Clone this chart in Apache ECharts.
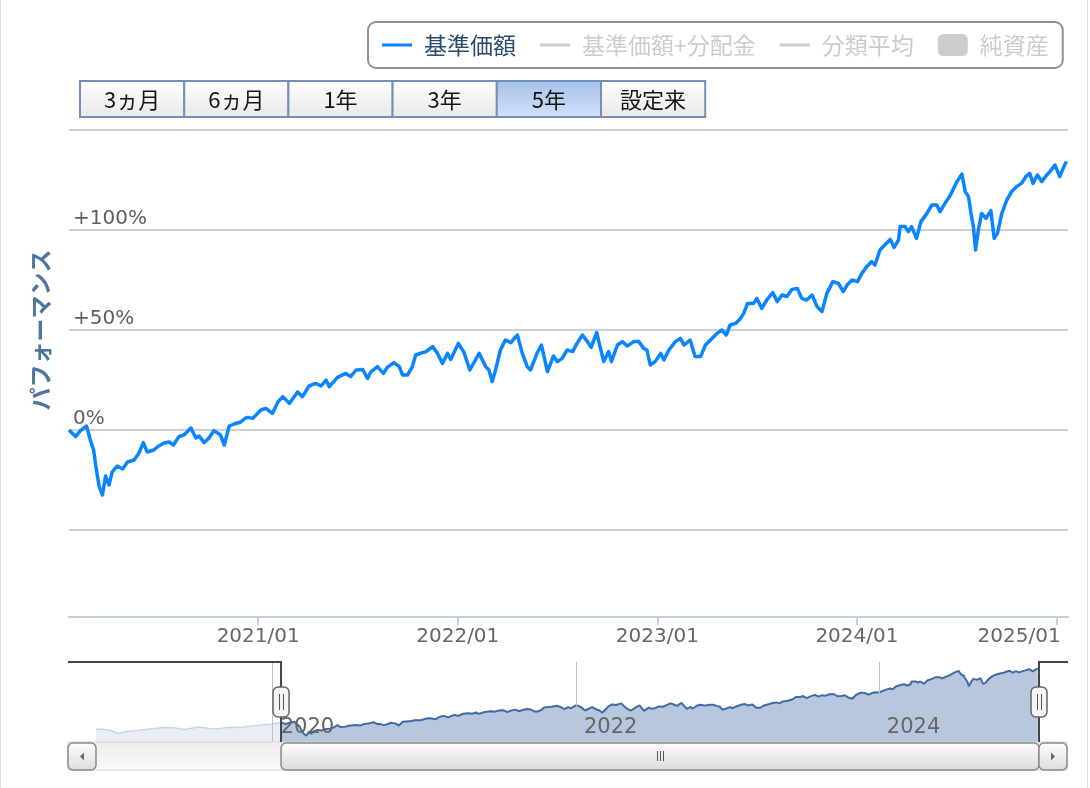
<!DOCTYPE html>
<html lang="ja">
<head>
<meta charset="utf-8">
<title>パフォーマンス</title>
<script src="https://cdn.jsdelivr.net/npm/echarts@6.0.0/dist/echarts.min.js"></script>
<style>
html,body{margin:0;padding:0;background:#ffffff;overflow:hidden;}
#wrap{position:relative;width:1090px;height:788px;}
#chart{position:absolute;left:0;top:0;width:1090px;height:788px;}
.edge{position:absolute;top:0;width:1px;height:788px;background:#dcdcdc;}
</style>
</head>
<body>
<div id="wrap">
  <div id="chart"></div>
  <div class="edge" style="left:0"></div>
  <div class="edge" style="left:1087px"></div>
</div>
<script>
// ---------------- data ----------------
const legendNames = ['基準価額', '基準価額+分配金', '分類平均', '純資産'];
const rangeButtons = ['3ヵ月', '6ヵ月', '1年', '3年', '5年', '設定来'];
const selectedButton = '5年';

const navStart = '2018-11-01';
const viewStart = '2020-01-21';
const viewEnd = '2025-01-21';

const yearTicks = ['2021-01-01', '2022-01-01', '2023-01-01', '2024-01-01', '2025-01-01'];
const navTicks = ['2020-01-01', '2022-01-01', '2024-01-01'];
const yTickValues = [-50, 0, 50, 100, 150];

// performance (%) relative to 2020-01-21
const dates = [
'2018-11-01','2018-11-15','2018-12-05','2018-12-24','2019-01-15','2019-02-13','2019-03-10','2019-04-16',
'2019-05-06','2019-06-03','2019-07-05','2019-08-05','2019-08-21','2019-09-15','2019-10-23','2019-11-20',
'2019-12-26','2020-01-21','2020-01-24','2020-02-02','2020-02-11','2020-02-22','2020-02-29','2020-03-06',
'2020-03-10','2020-03-16','2020-03-22','2020-03-28','2020-04-03','2020-04-09','2020-04-18','2020-04-28',
'2020-05-07','2020-05-19','2020-05-28','2020-06-05','2020-06-12','2020-06-24','2020-07-03','2020-07-13',
'2020-07-22','2020-07-30','2020-08-09','2020-08-18','2020-08-31','2020-09-09','2020-09-15','2020-09-24',
'2020-10-03','2020-10-12','2020-10-24','2020-10-31','2020-11-09','2020-11-18','2020-11-30','2020-12-09',
'2020-12-13','2020-12-22','2021-01-06','2021-01-15','2021-01-27','2021-02-06','2021-02-15','2021-02-27',
'2021-03-14','2021-03-23','2021-04-04','2021-04-16','2021-04-26','2021-05-05','2021-05-11','2021-05-26',
'2021-06-10','2021-06-19','2021-06-29','2021-07-11','2021-07-20','2021-07-26','2021-08-07','2021-08-18',
'2021-08-25','2021-09-06','2021-09-16','2021-09-22','2021-10-01','2021-10-10','2021-10-16','2021-10-28',
'2021-11-03','2021-11-16','2021-11-25','2021-12-04','2021-12-13','2021-12-19','2022-01-02','2022-01-12',
'2022-01-23','2022-02-09','2022-02-21','2022-02-27','2022-03-05','2022-03-11','2022-03-20','2022-03-29',
'2022-04-08','2022-04-20','2022-04-29','2022-05-08','2022-05-14','2022-05-26','2022-06-03','2022-06-14',
'2022-06-25','2022-07-02','2022-07-11','2022-07-20','2022-07-30','2022-08-07','2022-08-17','2022-08-26',
'2022-09-02','2022-09-12','2022-09-19','2022-09-25','2022-10-04','2022-10-09','2022-10-20','2022-10-29',
'2022-11-07','2022-11-19','2022-11-28','2022-12-07','2022-12-13','2022-12-19','2022-12-28','2023-01-07',
'2023-01-13','2023-01-22','2023-02-03','2023-02-12','2023-02-19','2023-03-02','2023-03-11','2023-03-21',
'2023-03-30','2023-04-08','2023-04-20','2023-04-29','2023-05-07','2023-05-14','2023-05-24','2023-06-02',
'2023-06-08','2023-06-15','2023-06-26','2023-07-02','2023-07-11','2023-07-20','2023-07-31','2023-08-08',
'2023-08-17','2023-08-26','2023-09-04','2023-09-14','2023-09-22','2023-10-01','2023-10-11','2023-10-20',
'2023-10-29','2023-11-07','2023-11-18','2023-11-28','2023-12-07','2023-12-14','2023-12-23','2024-01-02',
'2024-01-10','2024-01-19','2024-01-28','2024-02-03','2024-02-12','2024-02-21','2024-03-02','2024-03-09',
'2024-03-17','2024-03-20','2024-03-29','2024-04-04','2024-04-10','2024-04-19','2024-04-27','2024-05-08',
'2024-05-17','2024-05-26','2024-06-01','2024-06-10','2024-06-19','2024-07-02','2024-07-11','2024-07-17',
'2024-07-23','2024-07-27','2024-08-01','2024-08-05','2024-08-10','2024-08-16','2024-08-24','2024-09-02',
'2024-09-08','2024-09-14','2024-09-22','2024-10-01','2024-10-10','2024-10-19','2024-10-28','2024-11-05',
'2024-11-12','2024-11-18','2024-11-26','2024-12-04','2024-12-13','2024-12-19','2024-12-28','2025-01-06',
'2025-01-12','2025-01-18'
];
const performance = [
-17,-16,-19,-27,-22,-19,-16,-12,
-13,-17,-11,-15,-15,-12,-11,-7,
-4,0,0.3,-3.3,-0.3,2,-5,-10,
-18,-28,-32.5,-23,-27.5,-21,-18,-19.5,
-16,-15,-11.5,-6.3,-11,-10,-8,-6.5,
-6,-7.5,-3.3,-2.5,1,-4,-3,-6.3,
-4,-0.3,-2.5,-7.5,2,3,4,6,
6.3,5.8,10,10.8,8.3,14,16.7,13.3,
19,16.7,22,23.3,22,25,21.7,26.3,
28.3,26.7,30,30.3,25.8,29,31.7,28.3,
31.3,33.7,31.7,27.5,27.5,31.7,37.5,38.7,
39,41.7,38.3,33.3,38.3,35.3,43.3,39,
30,38.3,31.7,30,24.2,30,40,45,
43.7,47.5,38.3,31.7,30,38.3,42.5,29.2,
37,34.2,35.8,40,39.2,43.3,47.5,44.2,
41.3,48.7,40.8,34.2,39.2,34.2,42.5,44.2,
42,44.2,44.2,40.8,40,32.5,34.2,38.3,
35,40,44.2,45.8,42.5,45,36.7,36.7,
42.5,45,48.3,50,47.5,52.5,53.3,55.8,
58.3,63.3,63.3,65.8,60.8,65,68.7,64.2,
67.5,66.7,70.3,70.8,65.8,65,67.5,61.7,
59.2,68.3,74.2,73.3,69.2,72.5,75,74.2,
78.3,81.7,84.2,82.5,90,92.5,95.3,91.3,
95,101.7,101.7,99.2,101.7,95.8,104.2,108.3,
112.5,112.5,109.2,113.3,117,124.2,128,119.2,
116.7,109.2,101.7,90,100,108.3,105.8,109.7,
95.8,98.3,108.3,115,119.2,121.7,123.3,126.7,
128.3,123.3,127.5,124.2,127.5,129.2,132.5,126.7,
130.8,134.2
];

// ---------------- helpers ----------------
const toTs = s => new Date(s.replace(/-/g, '/')).getTime();
const pad2 = n => (n < 10 ? '0' : '') + n;
const FONT_NUM = 'DejaVu Sans';
const FONT_JP = 'Noto Sans CJK JP';

const allPairs = dates.map((d, i) => [toTs(d), performance[i]]);
const viewStartTs = toTs(viewStart);
const viewEndTs = toTs(viewEnd);
const navStartTs = toTs(navStart);
const mainPairs = allPairs.filter(p => p[0] >= viewStartTs);

const yearTickTs = yearTicks.map(toTs);
const navTickTs = navTicks.map(toTs);
const lastYearTick = yearTickTs[yearTickTs.length - 1];

const chart = echarts.init(document.getElementById('chart'), null, {renderer: 'canvas'});

const option = {
  animation: false,
  backgroundColor: '#ffffff',
  legend: {
    left: 368, top: 22,
    orient: 'horizontal',
    padding: [11, 14, 11, 14],
    borderColor: '#919191', borderWidth: 2, borderRadius: 8,
    itemWidth: 30, itemHeight: 22, itemGap: 24,
    inactiveColor: '#cccccc',
    itemStyle: {borderWidth: 0},
    textStyle: {color: '#274b6d', fontSize: 23, fontFamily: FONT_JP, padding: [0, 0, 0, 7], lineHeight: 24},
    data: [
      {name: legendNames[0], icon: 'path://M0,0 H30 V3 H0 Z'},
      {name: legendNames[1], icon: 'path://M0,0 H30 V3 H0 Z'},
      {name: legendNames[2], icon: 'path://M0,0 H30 V3 H0 Z'},
      {name: legendNames[3], icon: 'roundRect'}
    ],
    selected: {
      [legendNames[0]]: true, [legendNames[1]]: false,
      [legendNames[2]]: false, [legendNames[3]]: false
    }
  },
  grid: [
    {left: 69, right: 22, top: 130, height: 400, outerBoundsMode: 'none', containLabel: false},
    {left: 69, right: 22, top: 530, height: 87, outerBoundsMode: 'none', containLabel: false},
    {left: 96, right: 51, top: 662, height: 80, outerBoundsMode: 'none', containLabel: false}
  ],
  xAxis: [
    {type: 'value', gridIndex: 0, min: viewStartTs, max: viewEndTs, show: false},
    {
      type: 'value', gridIndex: 1, min: viewStartTs, max: viewEndTs,
      axisLine: {show: true, lineStyle: {color: '#c0d0e0', width: 2}},
      axisTick: {show: true, length: 8, customValues: yearTickTs, lineStyle: {color: '#c0d0e0', width: 2}},
      splitLine: {show: false},
      axisLabel: {
        customValues: yearTickTs,
        color: '#666666', fontSize: 20, fontFamily: FONT_NUM, margin: 10,
        formatter: function (v) {
          const d = new Date(v);
          const s = d.getFullYear() + '/' + pad2(d.getMonth() + 1);
          return v === lastYearTick ? '{last|' + s + '}' : s;
        },
        rich: {last: {padding: [0, 76, 0, 0], color: '#666666', fontSize: 20, fontFamily: FONT_NUM}}
      }
    },
    {
      type: 'value', gridIndex: 2, min: navStartTs, max: viewEndTs, z: 5,
      axisLine: {show: false},
      axisTick: {show: false, customValues: navTickTs},
      splitLine: {show: true, lineStyle: {color: '#c2c2c2', width: 1}},
      axisLabel: {
        inside: true, customValues: navTickTs, margin: 4,
        color: '#666666', fontSize: 21, fontFamily: FONT_NUM, align: 'left', padding: [0, 0, 0, 8],
        formatter: v => String(new Date(v).getFullYear())
      }
    }
  ],
  yAxis: [
    {
      type: 'value', gridIndex: 0, min: yTickValues[0], max: yTickValues[yTickValues.length - 1], interval: 50,
      axisLine: {show: false}, axisTick: {show: false},
      splitLine: {show: true, lineStyle: {color: '#c0c0c0', width: 1.5}},
      axisLabel: {
        inside: true, margin: 4, verticalAlign: 'bottom', padding: [0, 0, 1, 0],
        color: '#606060', fontSize: 20, fontFamily: FONT_NUM,
        formatter: v => (v === yTickValues[0] || v === yTickValues[yTickValues.length - 1]) ? '' : (v > 0 ? '+' + v + '%' : v + '%')
      },
      name: 'パフォーマンス', nameLocation: 'middle', nameRotate: 90, nameGap: 17,
      nameTextStyle: {color: '#4d759e', fontSize: 23, fontWeight: 'bold', fontFamily: FONT_JP}
    },
    {type: 'value', gridIndex: 1, show: false},
    {type: 'value', gridIndex: 2, show: false, min: -48, max: 150}
  ],
  series: [
    {
      name: legendNames[0], type: 'line', xAxisIndex: 0, yAxisIndex: 0,
      data: mainPairs, symbol: 'none', clip: true,
      color: '#0b84ff',
      lineStyle: {color: '#0b84ff', width: 3.5, join: 'round'},
      z: 3
    },
    {name: legendNames[1], type: 'line', xAxisIndex: 0, yAxisIndex: 0, data: [], symbol: 'none', color: '#7cb5ec', lineStyle: {width: 3}},
    {name: legendNames[2], type: 'line', xAxisIndex: 0, yAxisIndex: 0, data: [], symbol: 'none', color: '#90ed7d', lineStyle: {width: 3}},
    {name: legendNames[3], type: 'bar', xAxisIndex: 1, yAxisIndex: 1, data: [], color: '#a0a0a0'},
    {
      name: 'navigator-all', type: 'line', xAxisIndex: 2, yAxisIndex: 2, silent: true,
      data: allPairs, symbol: 'none',
      lineStyle: {color: '#c9d6e8', width: 1.5},
      areaStyle: {color: '#e9eef6', origin: 'start', opacity: 1},
      z: 2
    },
    {
      name: 'navigator-selected', type: 'line', xAxisIndex: 2, yAxisIndex: 2, silent: true,
      data: mainPairs, symbol: 'none',
      lineStyle: {color: '#426ca5', width: 2},
      areaStyle: {color: '#b7c7de', origin: 'start', opacity: 1},
      z: 3
    }
  ]
};

chart.setOption(option);

// ---------------- decorations: range buttons, navigator outline, handles, scrollbar ----------------
function grad(c0, c1) {
  return new echarts.graphic.LinearGradient(0, 0, 0, 1, [{offset: 0, color: c0}, {offset: 1, color: c1}]);
}
function decorations() {
  const g = [];
  const bx = 80, by = 81, bw = 104.2, bh = 36;
  rangeButtons.forEach((label, i) => {
    const sel = label === selectedButton;
    g.push({
      type: 'rect', z: 10,
      shape: {x: bx + i * bw, y: by, width: bw, height: bh},
      style: {fill: sel ? grad('#a6c1ea', '#d2e1f8') : grad('#ffffff', '#e8e8e8'), stroke: '#7391b8', lineWidth: 2}
    });
    g.push({
      type: 'text', z: 11,
      style: {text: label, x: bx + i * bw + bw / 2, y: by + bh / 2 + 1, align: 'center', verticalAlign: 'middle',
              textAlign: 'center', textVerticalAlign: 'middle', font: '22px "' + FONT_JP + '"', fill: '#141414'}
    });
  });

  const xL = chart.convertToPixel({xAxisIndex: 2}, viewStartTs);
  const xR = chart.convertToPixel({xAxisIndex: 2}, viewEndTs);
  const navTop = 662, navBottom = 742, outerL = 68, outerR = 1068;
  const sbTop = 742, sbH = 28;

  g.push({type: 'rect', z: 20, shape: {x: outerL, y: sbTop, width: outerR - outerL - 1, height: sbH},
          style: {fill: grad('#ececec', '#fbfbfb'), stroke: '#d6d6d6', lineWidth: 1}});
  g.push({type: 'rect', z: 21, shape: {x: xL, y: sbTop + 1, width: xR - xL, height: sbH - 1, r: 5},
          style: {fill: grad('#ffffff', '#d9d9d9'), stroke: '#8a8a8a', lineWidth: 1.5}});
  const cx = (xL + xR) / 2;
  [-3, 0, 3].forEach(d => g.push({type: 'line', z: 22,
      shape: {x1: Math.round(cx + d) + 0.5, y1: sbTop + 9, x2: Math.round(cx + d) + 0.5, y2: sbTop + 19},
      style: {stroke: '#555555', lineWidth: 1}}));
  [[outerL, -1], [xR, 1]].forEach(([x0, dir]) => {
    g.push({type: 'rect', z: 23, shape: {x: x0, y: sbTop + 1, width: 28, height: sbH - 1, r: 5},
            style: {fill: grad('#ffffff', '#dcdcdc'), stroke: '#8a8a8a', lineWidth: 1.5}});
    const mx = x0 + 14, my = sbTop + 14.5;
    g.push({type: 'polygon', z: 24,
            shape: {points: dir < 0 ? [[mx + 2, my - 4], [mx + 2, my + 4], [mx - 2, my]] : [[mx - 2, my - 4], [mx - 2, my + 4], [mx + 2, my]]},
            style: {fill: '#666666'}});
  });
  g.push({type: 'polyline', z: 25, shape: {points: [[outerL, navTop], [xL, navTop], [xL, navBottom]]},
          style: {stroke: '#444444', lineWidth: 2, fill: null}});
  g.push({type: 'polyline', z: 25, shape: {points: [[xR, navBottom], [xR, navTop], [outerR, navTop]]},
          style: {stroke: '#444444', lineWidth: 2, fill: null}});
  [xL, xR].forEach(x => {
    g.push({type: 'rect', z: 26, shape: {x: x - 8, y: 687, width: 16, height: 30, r: 5},
            style: {fill: '#f4f4f4', stroke: '#666666', lineWidth: 1.5}});
    [-2, 2].forEach(d => g.push({type: 'line', z: 27,
        shape: {x1: Math.round(x + d) + 0.5, y1: 694, x2: Math.round(x + d) + 0.5, y2: 710},
        style: {stroke: '#555555', lineWidth: 1}}));
  });
  return g;
}
chart.setOption({graphic: decorations()});
</script>
</body>
</html>
